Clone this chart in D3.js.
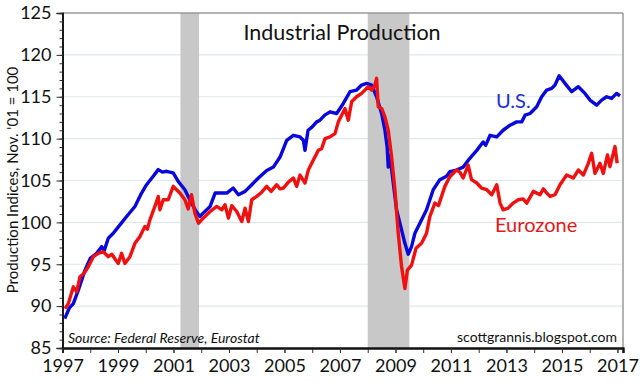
<!DOCTYPE html>
<html>
<head>
<meta charset="utf-8">
<script src="https://cdn.jsdelivr.net/npm/d3@7"></script>
<style>
  html, body { margin: 0; padding: 0; background: #fff; }
  svg { display: block; }
  text { font-family: Lato, "Noto Sans", sans-serif; }
</style>
</head>
<body>
<svg id="chart" width="640" height="382"></svg>
<script>
// ---------- DATA ----------
const usDates = [1997.08,1997.25,1997.39,1997.57,1997.81,1998.0,1998.23,1998.41,1998.5,1998.65,1998.83,1999.07,1999.31,1999.61,1999.85,2000.03,2000.27,2000.45,2000.6,2000.75,2000.99,2001.17,2001.41,2001.59,2001.78,2001.95,2002.07,2002.32,2002.5,2002.68,2002.92,2003.15,2003.34,2003.58,2003.82,2004.06,2004.36,2004.6,2004.84,2005.08,2005.32,2005.56,2005.68,2005.74,2005.85,2006.0,2006.16,2006.28,2006.45,2006.64,2006.88,2007.12,2007.36,2007.6,2007.78,2007.96,2008.14,2008.32,2008.5,2008.62,2008.7,2008.74,2008.8,2008.92,2009.04,2009.16,2009.34,2009.46,2009.58,2009.7,2009.88,2010.12,2010.36,2010.6,2010.84,2010.96,2011.2,2011.44,2011.68,2011.93,2012.16,2012.25,2012.41,2012.65,2012.88,2013.13,2013.37,2013.55,2013.67,2013.85,2014.09,2014.27,2014.45,2014.63,2014.75,2014.9,2015.11,2015.35,2015.59,2015.83,2016.01,2016.25,2016.43,2016.61,2016.79,2016.97,2017.09];
const usValues = [88.5,89.8,90.3,91.9,94.3,95.7,96.3,97.1,96.6,98.1,98.7,99.7,100.7,101.9,103.5,104.5,105.5,106.3,106.0,106.1,105.9,104.9,103.9,102.7,101.5,100.7,101.1,101.9,103.5,103.5,103.5,104.1,103.3,103.7,104.5,105.3,106.2,106.6,107.8,109.8,110.4,110.2,109.8,108.6,111.0,111.4,112.0,112.2,112.8,113.2,113.0,114.2,115.6,115.8,116.4,116.6,116.4,115.0,113.0,111.0,109.0,106.6,108.0,104.7,101.5,99.9,97.5,96.2,97.1,98.7,99.9,101.5,103.9,105.1,105.5,106.05,106.25,106.6,107.65,108.6,109.6,109.2,110.4,110.2,111.0,111.6,112.0,112.0,112.8,113.0,113.8,115.0,115.8,116.0,116.4,117.5,116.6,115.6,116.2,115.4,114.6,114.0,114.6,115.0,114.8,115.4,115.1];

const ezDates = [1997.09,1997.21,1997.39,1997.51,1997.63,1997.77,1997.93,1998.11,1998.29,1998.47,1998.65,1998.78,1998.9,1999.01,1999.13,1999.25,1999.43,1999.61,1999.79,1999.97,2000.06,2000.15,2000.33,2000.45,2000.51,2000.63,2000.81,2000.99,2001.11,2001.23,2001.41,2001.53,2001.65,2001.77,2001.9,2002.07,2002.32,2002.56,2002.74,2002.86,2002.98,2003.1,2003.28,2003.46,2003.58,2003.7,2003.82,2004.0,2004.18,2004.36,2004.52,2004.72,2004.84,2004.96,2005.14,2005.32,2005.44,2005.56,2005.74,2005.86,2006.04,2006.22,2006.34,2006.46,2006.64,2006.82,2006.94,2007.06,2007.18,2007.3,2007.42,2007.6,2007.78,2008.02,2008.14,2008.26,2008.32,2008.38,2008.5,2008.62,2008.74,2008.86,2008.98,2009.1,2009.22,2009.34,2009.43,2009.58,2009.74,2009.94,2010.12,2010.24,2010.42,2010.55,2010.78,2010.96,2011.2,2011.32,2011.44,2011.62,2011.74,2011.93,2012.1,2012.29,2012.47,2012.65,2012.77,2012.88,2013.06,2013.24,2013.43,2013.6,2013.73,2013.97,2014.21,2014.33,2014.45,2014.57,2014.75,2014.93,2015.17,2015.41,2015.59,2015.77,2015.95,2016.07,2016.19,2016.37,2016.49,2016.64,2016.73,2016.91,2016.99];
const ezValues = [89.7,90.3,92.3,91.7,93.5,93.9,94.7,95.9,96.3,96.5,95.9,96.2,95.6,95.1,96.3,95.1,95.9,97.5,98.3,99.5,99.2,100.3,101.9,103.1,101.5,102.7,102.7,104.3,103.9,103.5,102.7,101.6,103.3,101.1,99.9,100.5,101.3,101.9,101.5,102.1,100.5,102.0,101.3,100.1,101.7,100.1,102.7,103.1,103.6,104.3,103.7,104.5,104.0,104.1,104.8,105.3,104.3,105.65,104.7,106.25,107.45,108.6,108.8,110.0,110.2,110.6,112.0,112.8,113.6,112.2,114.4,115.0,115.4,116.2,115.8,116.4,117.2,113.8,113.6,112.6,111.0,107.85,103.9,98.7,94.7,92.1,94.3,94.9,96.9,97.5,98.7,100.7,102.3,102.0,104.3,105.45,106.25,106.0,105.3,106.85,105.1,104.7,104.1,103.9,103.3,104.5,102.3,101.5,101.7,102.3,102.7,102.8,102.3,103.7,103.3,104.0,103.5,103.1,103.3,104.5,105.65,105.3,106.25,105.65,107.05,108.25,105.85,107.05,105.85,108.05,106.65,109.05,107.05];

const recessions = [[2001.25, 2001.92], [2008.0, 2009.5]];
const xTickYears = [1997,1999,2001,2003,2005,2007,2009,2011,2013,2015,2017];
const yTickValues = [85,90,95,100,105,110,115,120,125];

const titleText = "Industrial Production";
const yLabelText = "Production Indices, Nov. '01 = 100";
const sourceText = "Source: Federal Reserve, Eurostat";
const creditText = "scottgrannis.blogspot.com";
const usLabel = "U.S.";
const ezLabel = "Eurozone";

// ---------- LAYOUT ----------
const L = 62.5, R = 623, T = 13, B = 348;
const svg = d3.select("#chart");
const x = d3.scaleLinear().domain([1997, 2017.2]).range([L, R]);
const y = d3.scaleLinear().domain([85, 125]).range([B, T]);

// gridlines
svg.append("g").selectAll("line").data(yTickValues.filter(v => v > 85 && v < 125))
  .join("line")
  .attr("x1", L).attr("x2", R)
  .attr("y1", d => y(d)).attr("y2", d => y(d))
  .attr("stroke", "#dfe7eb").attr("stroke-width", 1.2);

// recession bands
svg.append("g").selectAll("rect").data(recessions).join("rect")
  .attr("x", d => x(d[0])).attr("width", d => x(d[1]) - x(d[0]))
  .attr("y", T).attr("height", B - T)
  .attr("fill", "#c8c8c8");

// lines
const line = d3.line().x(d => x(d[0])).y(d => y(d[1])).curve(d3.curveLinear);
const usData = usDates.map((d, i) => [d, usValues[i]]);
const ezData = ezDates.map((d, i) => [d, ezValues[i]]);

svg.append("path").datum(usData).attr("d", line)
  .attr("fill", "none").attr("stroke", "#0808dc").attr("stroke-width", 3.4)
  .attr("stroke-linejoin", "round");
svg.append("path").datum(ezData).attr("d", line)
  .attr("fill", "none").attr("stroke", "#f01010").attr("stroke-width", 3.4)
  .attr("stroke-linejoin", "round");

// frame top/right
svg.append("line").attr("x1", L).attr("x2", R).attr("y1", T).attr("y2", T)
  .attr("stroke", "#9a9a9a").attr("stroke-width", 1.5);
svg.append("line").attr("x1", R).attr("x2", R).attr("y1", T).attr("y2", B)
  .attr("stroke", "#9a9a9a").attr("stroke-width", 1.5);

// y axis
const yAxis = d3.axisLeft(y).tickValues(yTickValues).tickSize(6).tickPadding(4).tickFormat(d3.format("d"));
const yMinor = d3.axisLeft(y).tickValues(d3.range(85, 126, 1)).tickSize(3).tickFormat("");
const gyMinor = svg.append("g").attr("transform", `translate(${L},0)`).call(yMinor);
const gy = svg.append("g").attr("transform", `translate(${L},0)`).call(yAxis);
[gy, gyMinor].forEach(g => {
  g.select(".domain").attr("stroke", "#111").attr("stroke-width", 1.6);
  g.selectAll(".tick line").attr("stroke", "#333").attr("stroke-width", 1);
});
gy.selectAll(".tick text").attr("font-size", 18).attr("fill", "#111")
  .attr("font-family", "Lato, sans-serif").attr("dx", "-1");

// x axis
const xAxis = d3.axisBottom(x).tickValues(xTickYears).tickSize(5).tickPadding(6).tickFormat(d3.format("d"));
const xMinor = d3.axisBottom(x).tickValues(d3.range(1997, 2018, 1)).tickSize(5).tickFormat("");
const gxMinor = svg.append("g").attr("transform", `translate(0,${B})`).call(xMinor);
const gx = svg.append("g").attr("transform", `translate(0,${B})`).call(xAxis);
[gx, gxMinor].forEach(g => {
  g.select(".domain").attr("stroke", "#111").attr("stroke-width", 2);
  g.selectAll(".tick line").attr("stroke", "#333").attr("stroke-width", 1);
});
gx.selectAll(".tick text").attr("font-size", 18).attr("fill", "#111")
  .attr("font-family", "Lato, sans-serif");

// title
svg.append("text").attr("x", 342).attr("y", 40).attr("text-anchor", "middle")
  .attr("font-size", 21.5).attr("fill", "#111").text(titleText);

// y label
svg.append("text").attr("transform", `translate(18,180) rotate(-90)`)
  .attr("text-anchor", "middle").attr("font-size", 15).attr("fill", "#111")
  .text(yLabelText);

// source / credit
svg.append("text").attr("x", 68).attr("y", 343).attr("font-size", 14)
  .attr("font-style", "italic").attr("fill", "#111").text(sourceText);
svg.append("text").attr("x", 617).attr("y", 342).attr("text-anchor", "end")
  .attr("font-size", 14).attr("fill", "#111").text(creditText);

// series labels
svg.append("text").attr("x", 496).attr("y", 108).attr("font-size", 20)
  .attr("fill", "#1c2fd0").text(usLabel);
svg.append("text").attr("x", 495).attr("y", 232).attr("font-size", 20)
  .attr("fill", "#e01a1a").text(ezLabel);
</script>
</body>
</html>
